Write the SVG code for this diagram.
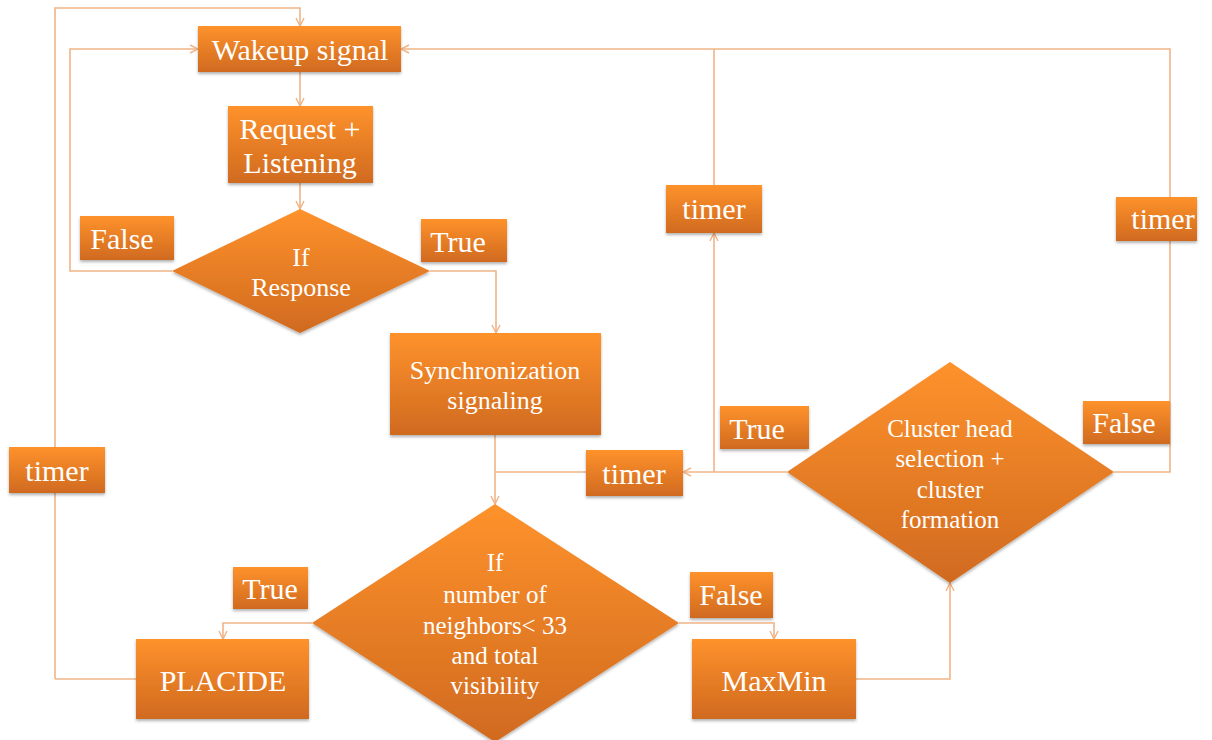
<svg xmlns="http://www.w3.org/2000/svg" width="1212" height="740" viewBox="0 0 1212 740">
<defs>
<linearGradient id="g" x1="0" y1="0" x2="0" y2="1">
<stop offset="0" stop-color="#FE922C"/>
<stop offset="1" stop-color="#D06A1F"/>
</linearGradient>
<filter id="sh" x="-10%" y="-10%" width="130%" height="130%">
<feDropShadow dx="0" dy="2" stdDeviation="1.5" flood-color="#000" flood-opacity="0.3"/>
</filter>
<marker id="ah" viewBox="0 0 10 10" refX="9" refY="5" markerWidth="10" markerHeight="10" markerUnits="userSpaceOnUse" orient="auto">
<path d="M1,1 L9,5 L1,9" fill="none" stroke="#F0B487" stroke-width="1.4"/>
</marker>
</defs>
<style>
.n{fill:url(#g);filter:url(#sh)}
.c{fill:none;stroke:#F0B487;stroke-width:1.6}
.a{marker-end:url(#ah)}
text{font-family:'Liberation Serif','DejaVu Serif',serif;fill:#fff;text-anchor:middle}
.l{font-size:30px}
.m{font-size:26px}
.k{font-size:25px}
</style>
<rect width="1212" height="740" fill="#fff"/>
<g id="connectors">
<path class="c a" d="M55,679 V8 H300 V26"/>
<path class="c a" d="M172,271 H70 V49 H198"/>
<path class="c a" d="M300,72 V106"/>
<path class="c a" d="M300,183 V209"/>
<path class="c a" d="M430,271 H496 V333"/>
<path class="c a" d="M495,435 V504"/>
<path class="c" d="M586,472 H495"/>
<path class="c a" d="M787,472 H683"/>
<path class="c a" d="M714,472 V233"/>
<path class="c" d="M714,185 V49"/>
<path class="c a" d="M1114,472 H1170 V49 H401"/>
<path class="c a" d="M312,623 H223 V639"/>
<path class="c" d="M55,679 H136"/>
<path class="c a" d="M679,623 H774 V639"/>
<path class="c a" d="M856,679 H950 V583"/>
</g>
<g id="wakeup"><rect class="n" x="198" y="26" width="203" height="46"/><text class="l" x="300" y="60">Wakeup signal</text></g>
<g id="request"><rect class="n" x="228" y="106" width="145" height="77"/><text class="l" x="300" y="139">Request +</text><text class="l" x="300" y="173">Listening</text></g>
<g id="ifresponse"><polygon class="n" points="300,209 430,271 300,333 172,271"/><text class="m" x="301" y="266">If</text><text class="m" x="301" y="296">Response</text></g>
<g id="false1"><rect class="n" x="80" y="216" width="94" height="44"/><text class="l" x="122" y="249">False</text></g>
<g id="true1"><rect class="n" x="421" y="219" width="86" height="43"/><text class="l" x="458" y="252">True</text></g>
<g id="sync"><rect class="n" x="390" y="333" width="211" height="102"/><text class="m" x="495" y="379">Synchronization</text><text class="m" x="495" y="409">signaling</text></g>
<g id="timer-top"><rect class="n" x="666" y="185" width="96" height="48"/><text class="l" x="714" y="219">timer</text></g>
<g id="timer-right"><rect class="n" x="1116" y="197" width="81" height="44"/><text class="l" x="1163" y="229">timer</text></g>
<g id="timer-mid"><rect class="n" x="586" y="450" width="97" height="46"/><text class="l" x="634" y="484">timer</text></g>
<g id="timer-left"><rect class="n" x="9" y="447" width="96" height="46"/><text class="l" x="57" y="481">timer</text></g>
<g id="cluster"><polygon class="n" points="950,362 1114,472 950,583 787,472"/><text class="k" x="950" y="437">Cluster head</text><text class="k" x="950" y="467">selection +</text><text class="k" x="950" y="498">cluster</text><text class="k" x="950" y="528">formation</text></g>
<g id="true2"><rect class="n" x="720" y="406" width="89" height="43"/><text class="l" x="757" y="439">True</text></g>
<g id="false2"><rect class="n" x="1083" y="401" width="87" height="43"/><text class="l" x="1124" y="433">False</text></g>
<g id="neighbors"><polygon class="n" points="495,504 679,623 495,742 312,623"/><text class="k" x="495" y="571">If</text><text class="k" x="495" y="603">number of</text><text class="k" x="495" y="634">neighbors&lt; 33</text><text class="k" x="495" y="664">and total</text><text class="k" x="495" y="694">visibility</text></g>
<g id="true3"><rect class="n" x="233" y="567" width="75" height="42"/><text class="l" x="270" y="599">True</text></g>
<g id="false3"><rect class="n" x="690" y="572" width="83" height="46"/><text class="l" x="731" y="605">False</text></g>
<g id="placide"><rect class="n" x="136" y="639" width="173" height="80"/><text class="l" x="223" y="691">PLACIDE</text></g>
<g id="maxmin"><rect class="n" x="692" y="639" width="164" height="80"/><text class="l" x="774" y="691">MaxMin</text></g>
</svg>
